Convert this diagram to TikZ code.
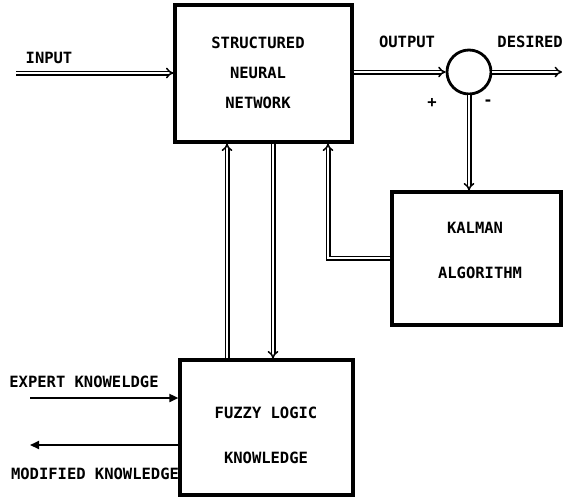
\documentclass[tikz,border=0pt]{standalone}
\usepackage{fontspec}
\setmonofont{DejaVu Sans Mono}
\usetikzlibrary{arrows.meta,calc}
\tikzset{
  blk/.style={draw, line width=3.2pt, rectangle, inner sep=0pt},
  sumj/.style={draw, line width=2.8pt, circle, inner sep=0pt, minimum size=44pt},
  lbl/.style={font=\ttfamily\bfseries\fontsize{15.5}{17}\selectfont, inner sep=0pt},
  dbl/.style={double, line width=1.5pt, double distance=2pt, -{Implies[length=5pt]}},
  sgl/.style={line width=1.8pt, -{Triangle[length=9pt,width=8pt]}}
}
\begin{document}
\begin{tikzpicture}[x=1pt,y=-1pt]
\useasboundingbox (0,0) rectangle (564,499);
% blocks
\node[blk, minimum width=177pt, minimum height=137pt] (snn) at (263.5,73.5) {};
\node[sumj] (circ) at (469,72) {};
\node[blk, minimum width=169pt, minimum height=133pt] (kal) at (476.5,258.5) {};
\node[blk, minimum width=173pt, minimum height=135pt] (fuz) at (266.5,427.5) {};
% texts
\node[lbl] (t1) at (258,43) {STRUCTURED};
\node[lbl] (t2) at (258,73) {NEURAL};
\node[lbl] (t3) at (258,103) {NETWORK};
\node[lbl] (t4) at (475,228) {KALMAN};
\node[lbl] (t5) at (480,273) {ALGORITHM};
\node[lbl] (t6) at (266,413) {FUZZY LOGIC};
\node[lbl] (t7) at (266,458) {KNOWLEDGE};
\node[lbl] (in) at (49,58) {INPUT};
\node[lbl] (out) at (407,42) {OUTPUT};
\node[lbl, anchor=east] (des) at (563,42) {DESIRED};
\node[lbl] (plus) at (432,103) {+};
\node[lbl] (minus) at (488,103) {-};
\node[lbl] (exk) at (84,382) {EXPERT KNOWELDGE};
\node[lbl] (mok) at (95,474) {MODIFIED KNOWLEDGE};
% coordinates
\coordinate (ins) at (16,73);
\coordinate (dend) at (562,72);
\coordinate (fb) at (328,258);
\coordinate (up) at (227,0);
\coordinate (dn) at (273,0);
\coordinate (ex) at (30,398);
\coordinate (mo) at (30,445);
% connectors
\draw[dbl] (ins) -- (ins -| snn.west);
\draw[dbl] (snn.east |- circ.west) -- (circ.west);
\draw[dbl] (circ.east) -- (dend);
\draw[dbl] (circ.south) -- (circ.south |- kal.north);
\draw[dbl] (kal.west |- fb) -- (fb) -- (fb |- snn.south);
\draw[dbl] (up |- fuz.north) -- (up |- snn.south);
\draw[dbl] (dn |- snn.south) -- (dn |- fuz.north);
\draw[sgl] (ex) -- (ex -| fuz.west);
\draw[sgl] (mo -| fuz.west) -- (mo);
\end{tikzpicture}
\end{document}
